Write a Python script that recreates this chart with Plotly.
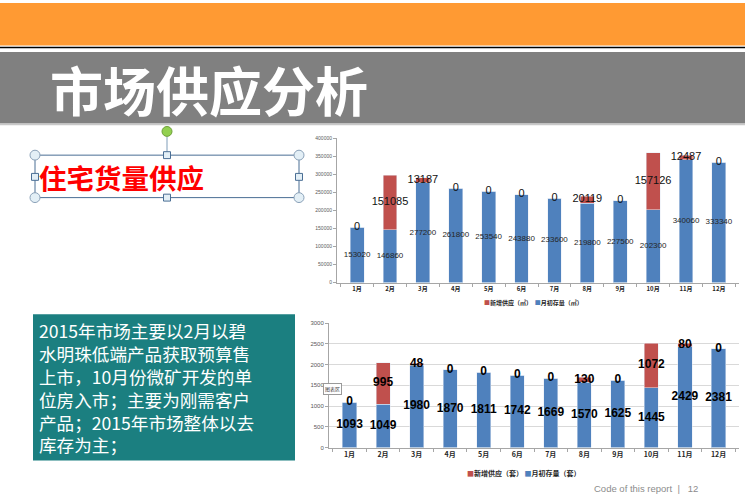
import plotly.graph_objects as go

W, H = 745, 497

months = ["1月", "2月", "3月", "4月", "5月", "6月", "7月", "8月", "9月", "10月", "11月", "12月"]

area_stock = [153020, 146860, 277200, 261800, 253540, 243880, 233600, 219800, 227500, 202300, 340060, 333340]
area_new = [0, 151085, 13187, 0, 0, 0, 0, 20119, 0, 157126, 12487, 0]

unit_stock = [1093, 1049, 1980, 1870, 1811, 1742, 1669, 1570, 1625, 1445, 2429, 2381]
unit_new = [0, 995, 48, 0, 0, 0, 0, 130, 0, 1072, 80, 0]

top_ticks = [0, 50000, 100000, 150000, 200000, 250000, 300000, 350000, 400000]
bottom_ticks = [0, 500, 1000, 1500, 2000, 2500, 3000]

title_text = "市场供应分析"
subtitle_text = "住宅货量供应"
body_lines = [
    "2015年市场主要以2月以碧",
    "水明珠低端产品获取预算售",
    "上市，10月份微矿开发的单",
    "位房入市；主要为刚需客户",
    "产品；2015年市场整体以去",
    "库存为主；",
]
footer_text = "Code of this report  |   12"

BLUE = "#4F81BD"
RED = "#C0504D"
CJK = "Noto Sans CJK SC"


def px(x):
    return x / W


def py(y):
    return 1 - y / H


fig = go.Figure()

# ---- top chart (area) ----
fig.add_trace(go.Bar(x=months, y=area_stock, name="月初存量（㎡）", marker_color=BLUE,
                     xaxis="x", yaxis="y", showlegend=False))
fig.add_trace(go.Bar(x=months, y=area_new, name="新增供应（㎡）", marker_color=RED,
                     xaxis="x", yaxis="y", showlegend=False))
fig.add_trace(go.Scatter(x=months, y=[v / 2 for v in area_stock], mode="text",
                         text=[str(v) for v in area_stock],
                         textfont=dict(size=8, color="#262626", family="Arial"),
                         xaxis="x", yaxis="y", showlegend=False, cliponaxis=False, hoverinfo="skip"))
fig.add_trace(go.Scatter(x=months, y=[s + n / 2 for s, n in zip(area_stock, area_new)], mode="text",
                         text=[str(v) for v in area_new],
                         textfont=dict(size=11, color="#111111", family="Arial"),
                         xaxis="x", yaxis="y", showlegend=False, cliponaxis=False, hoverinfo="skip"))

# ---- bottom chart (units) ----
fig.add_trace(go.Bar(x=months, y=unit_stock, name="月初存量（套）", marker_color=BLUE,
                     xaxis="x2", yaxis="y2", showlegend=False))
fig.add_trace(go.Bar(x=months, y=unit_new, name="新增供应（套）", marker_color=RED,
                     xaxis="x2", yaxis="y2", showlegend=False))
fig.add_trace(go.Scatter(x=months, y=[v / 2 for v in unit_stock], mode="text",
                         text=[str(v) for v in unit_stock],
                         textfont=dict(size=12, color="#000000", family="Arial", weight="bold"),
                         xaxis="x2", yaxis="y2", showlegend=False, cliponaxis=False, hoverinfo="skip"))
fig.add_trace(go.Scatter(x=months, y=[s + n / 2 for s, n in zip(unit_stock, unit_new)], mode="text",
                         text=[str(v) for v in unit_new],
                         textfont=dict(size=12, color="#000000", family="Arial", weight="bold"),
                         xaxis="x2", yaxis="y2", showlegend=False, cliponaxis=False, hoverinfo="skip"))

axis_common = dict(showline=True, linecolor="#A6A6A6", linewidth=1, ticks="outside",
                   tickcolor="#A6A6A6", ticklen=3, zeroline=False, fixedrange=True)

shapes = []
# header bands
shapes.append(dict(type="rect", xref="paper", yref="paper", x0=0, x1=1, y0=py(43), y1=1,
                   fillcolor="#FF9A33", line_width=0, layer="below"))
shapes.append(dict(type="line", xref="paper", yref="paper", x0=0, x1=1, y0=py(45), y1=py(45),
                   line=dict(color="#000000", width=1.6), layer="below"))
shapes.append(dict(type="rect", xref="paper", yref="paper", x0=0, x1=1, y0=py(122), y1=py(49.5),
                   fillcolor="#808080", line_width=0, layer="below"))
shapes.append(dict(type="line", xref="paper", yref="paper", x0=0, x1=1, y0=py(123), y1=py(123),
                   line=dict(color="#C8C8C8", width=1.5), layer="below"))
# teal text box
shapes.append(dict(type="rect", xref="paper", yref="paper", x0=px(33), x1=px(295), y0=py(463), y1=py(315),
                   fillcolor="#1B7F80", line_width=0, layer="below"))
# selection frame
shapes.append(dict(type="rect", xref="paper", yref="paper", x0=px(35), x1=px(299), y0=py(197), y1=py(154),
                   line=dict(color="#4A6E94", width=1), fillcolor="rgba(0,0,0,0)"))
shapes.append(dict(type="line", xref="paper", yref="paper", x0=px(167), x1=px(167), y0=py(135), y1=py(154),
                   line=dict(color="#7F9DB9", width=1)))
for cx, cy in [(35, 154), (299, 154), (35, 197), (299, 197)]:
    shapes.append(dict(type="circle", xref="paper", yref="paper", x0=px(cx - 5), x1=px(cx + 5),
                       y0=py(cy + 5), y1=py(cy - 5), fillcolor="#E3EFF6", line=dict(color="#8AA1B8", width=1)))
for cx, cy in [(167, 154), (167, 197), (35, 176), (299, 176)]:
    shapes.append(dict(type="rect", xref="paper", yref="paper", x0=px(cx - 3.5), x1=px(cx + 3.5),
                       y0=py(cy + 3.5), y1=py(cy - 3.5), fillcolor="#E3EFF6", line=dict(color="#4A6E94", width=1)))
shapes.append(dict(type="circle", xref="paper", yref="paper", x0=px(162), x1=px(172), y0=py(135), y1=py(125),
                   fillcolor="#92D050", line=dict(color="#6E9F3A", width=1)))

annotations = []
annotations.append(dict(xref="paper", yref="paper", x=px(48), y=py(87), xanchor="left", yanchor="middle",
                        text=title_text, showarrow=False,
                        font=dict(family=CJK, size=53, color="#FFFFFF", weight="bold")))
annotations.append(dict(xref="paper", yref="paper", x=px(37), y=py(176), xanchor="left", yanchor="middle",
                        text=subtitle_text, showarrow=False,
                        font=dict(family=CJK, size=27.5, color="#FF0000", weight="bold")))
annotations.append(dict(xref="paper", yref="paper", x=px(37), y=py(389.5), xanchor="left", yanchor="middle",
                        align="left", text="<br>".join(body_lines), showarrow=False,
                        font=dict(family=CJK, size=17.6, color="#FFFFFF")))
# legends as text
annotations.append(dict(xref="paper", yref="paper", x=px(533), y=py(303), xanchor="center", yanchor="middle",
                        text='<span style="color:%s">■</span>新增供应（㎡）  <span style="color:%s">■</span>月初存量（㎡）' % (RED, BLUE),
                        showarrow=False, font=dict(family=CJK, size=6, color="#262626", weight="bold")))
annotations.append(dict(xref="paper", yref="paper", x=px(524), y=py(476), xanchor="center", yanchor="middle",
                        text='<span style="color:%s">■</span>新增供应（套） <span style="color:%s">■</span>月初存量（套）' % (RED, BLUE),
                        showarrow=False, font=dict(family=CJK, size=7, color="#262626", weight="bold")))
# chart-area tooltip
annotations.append(dict(xref="paper", yref="paper", x=px(332), y=py(391), xanchor="center", yanchor="middle",
                        text="图表区", showarrow=False, bgcolor="#FFFFFF", bordercolor="#9A9A9A", borderwidth=1,
                        borderpad=1, font=dict(family=CJK, size=5, color="#404040")))
annotations.append(dict(xref="paper", yref="paper", x=px(700), y=py(491), xanchor="right", yanchor="middle",
                        text=footer_text, showarrow=False,
                        font=dict(family="Arial", size=9.5, color="#8C8C8C")))

fig.update_layout(
    width=W, height=H, margin=dict(l=0, r=0, t=0, b=0),
    paper_bgcolor="#FFFFFF", plot_bgcolor="rgba(0,0,0,0)",
    barmode="stack", bargap=0.58,
    showlegend=False,
    xaxis=dict(domain=[px(337), px(739)], anchor="y", type="category",
               tickfont=dict(family=CJK, size=6, color="#262626", weight="bold"),
               tickson="boundaries", **axis_common),
    yaxis=dict(domain=[py(283), py(137)], anchor="x", range=[0, 400000], tickvals=top_ticks,
               ticktext=[str(v) for v in top_ticks], showgrid=False,
               tickfont=dict(family="Arial", size=5, color="#595959"), **axis_common),
    xaxis2=dict(domain=[px(329), px(739)], anchor="y2", type="category",
                tickfont=dict(family=CJK, size=7, color="#262626", weight="bold"),
                tickson="boundaries", **axis_common),
    yaxis2=dict(domain=[py(450), py(324)], anchor="x2", range=[0, 3000], tickvals=bottom_ticks,
                ticktext=[str(v) for v in bottom_ticks], showgrid=True, gridcolor="#D9D9D9", gridwidth=1,
                tickfont=dict(family="Arial", size=6, color="#595959"), **axis_common),
    shapes=shapes,
    annotations=annotations,
)

fig.write_html("out.html")
